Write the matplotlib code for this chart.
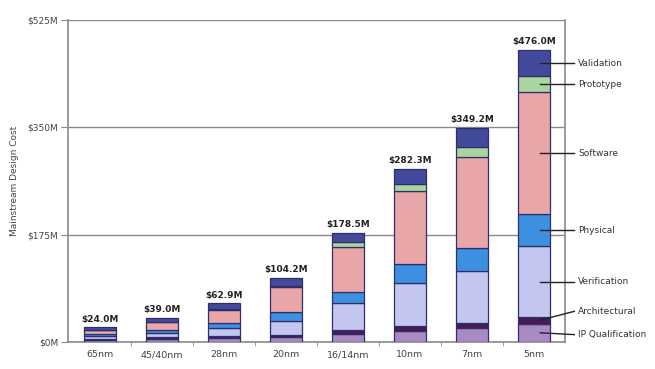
import matplotlib
matplotlib.use("Agg")
import matplotlib.pyplot as plt
import numpy as np

nodes = ["65nm", "45/40nm", "28nm", "20nm", "16/14nm", "10nm", "7nm", "5nm"]
totals = [24.0, 39.0, 62.9, 104.2, 178.5, 282.3, 349.2, 476.0]

ip_qual      = [2.5, 5.0, 6.5, 8.0, 13.0, 18.4, 23.0, 30.0]
architecture = [2.0, 3.0, 4.0, 4.0, 6.5, 7.6, 8.0, 11.0]
verification = [5.0, 7.0, 13.0, 21.5, 44.5, 70.0, 84.0, 115.0]
physical     = [3.0, 5.0, 7.0, 16.0, 17.0, 31.0, 39.0, 52.0]
software     = [7.0, 12.0, 21.0, 40.0, 74.5, 120.0, 148.2, 200.0]
prototype    = [0.5, 1.0, 2.4, 1.5, 7.0, 11.0, 15.0, 25.0]
validation   = [4.0, 6.0, 9.0, 13.2, 16.0, 24.3, 32.0, 43.0]

series = [
    ("IP Qualification", ip_qual, "#a98bc4"),
    ("Architectural", architecture, "#4a1a55"),
    ("Verification", verification, "#c3c6ef"),
    ("Physical", physical, "#3d8fe0"),
    ("Software", software, "#e8a6a9"),
    ("Prototype", prototype, "#a9d6a0"),
    ("Validation", validation, "#434a9b"),
]

yticks = [0, 175, 350, 525]
ytick_labels = ["$0M", "$175M", "$350M", "$525M"]

fig = plt.figure(figsize=(6.55, 3.69), dpi=100)
ax = fig.add_axes([68/655, 1-342/369, (565-68)/655, (342-20)/369])

x = np.arange(len(nodes))
width = 0.52
bottom = np.zeros(len(nodes))
for name, vals, color in series:
    ax.bar(x, vals, width, bottom=bottom, color=color, edgecolor="#2e2f6a", linewidth=0.9, zorder=3)
    bottom += np.array(vals)

for xi, t in zip(x, totals):
    ax.text(xi, t + 6, f"${t:.1f}M", ha="center", va="bottom", fontsize=6.5, fontweight="bold", color="#222222")

ax.set_ylim(0, 525)
ax.set_xlim(-0.516, 7.5)
ax.set_yticks(yticks)
ax.set_yticklabels(ytick_labels, fontsize=6.5, color="#444444")
ax.set_xticks(x)
ax.set_xticklabels(nodes, fontsize=6.8, color="#444444")
ax.set_xticks(np.arange(0.5, 7.5, 1), minor=True)
ax.tick_params(axis="x", which="major", length=0, pad=6)
ax.tick_params(axis="x", which="minor", length=3, color="#888888")
ax.tick_params(axis="y", length=5, color="#888888", pad=2)
ax.yaxis.grid(True, color="#8a8a8a", linewidth=1.0, zorder=0)
for s in ["left", "bottom", "right"]:
    ax.spines[s].set_color("#8a8a8a")
    ax.spines[s].set_linewidth(1.2)
ax.spines["top"].set_visible(False)
ax.set_ylabel("Mainstream Design Cost", fontsize=6.5, color="#444444", labelpad=6)

# Callout labels for the last bar
last = len(nodes) - 1
cum = 0.0
mids = []
for name, vals, color in series:
    mids.append((name, cum + vals[last] / 2))
    cum += vals[last]
label_y = {"IP Qualification": 12, "Architectural": 50}
xs = last + 0.1
xe = last + 0.65
for name, ym in mids:
    ly = label_y.get(name, ym)
    ax.plot([xs, xe], [ym, ly], color="#222222", linewidth=1.0, clip_on=False, zorder=4)
    ax.text(xe + 0.06, ly, name, ha="left", va="center", fontsize=6.5, color="#333333", clip_on=False)

fig.savefig("out.png", dpi=100)
